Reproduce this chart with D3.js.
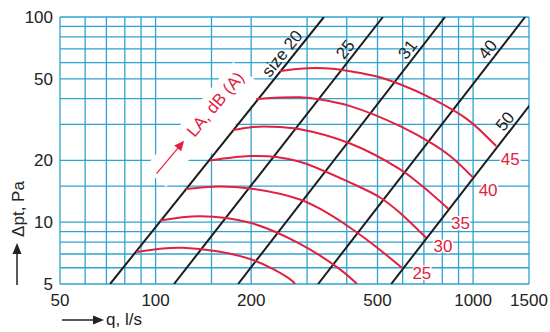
<!DOCTYPE html>
<html><head><meta charset="utf-8">
<script src="https://cdn.jsdelivr.net/npm/d3@7"></script>
<style>html,body{margin:0;padding:0;background:#fff;} svg{display:block;}</style>
</head><body>
<svg id="c" width="550" height="332"></svg>
<script>
// ---------- data ----------
const qTicks = [50, 100, 200, 500, 1000, 1500];
const pTicks = [5, 10, 20, 50, 100];
const qGrid = [50, 60, 70, 80, 90, 100, 150, 200, 300, 400, 500, 600, 700, 800, 900, 1000, 1500];
const pGrid = [5, 6, 7, 8, 9, 10, 15, 20, 30, 40, 50, 60, 70, 80, 90, 100];

const sizeNames = ["size 20", "25", "31", "40", "50"];
const sizeQat5 = [71.9, 114.3, 181.9, 325, 552];     // q (l/s) where line meets Δpt = 5 Pa
const sizeQat100 = [339, 520, 816, 1458, 2477];      // q (l/s) where line meets Δpt = 100 Pa

const laNames = ["45", "40", "35", "30", "25", "", ""];
const la45 = [[246.7, 54.6], [285, 56.0], [320, 56.4], [360, 56.0], [410, 54.4], [491, 51.6], [589, 47.0], [748, 39.8], [957, 31.8], [1182, 23.5]];
const la40 = [[207.3, 39.7], [246.7, 40.5], [285, 40.6], [330, 39.6], [410, 36.8], [589, 29.4], [748, 24.0], [846.7, 21.0], [1000, 16.5]];
const la35 = [[175.4, 28.1], [202.8, 29.1], [230, 29.2], [285, 28.4], [410, 24.2], [589, 18.1], [681, 15.3], [836.5, 11.6]];
const la30 = [[148.5, 20.0], [198.5, 21.0], [240, 20.8], [285, 19.7], [410, 15.6], [509.5, 13.2], [589, 11.1], [711, 8.40]];
const la25 = [[124.7, 14.5], [151.7, 14.9], [198.5, 14.6], [285, 12.9], [330, 11.6], [410, 9.40], [491, 7.66], [596.5, 6.00]];
const la20 = [[103.3, 10.2], [138.1, 10.7], [198.5, 9.94], [285, 7.85], [381, 5.89], [431, 5.0]];
const la15 = [[86.8, 7.16], [122, 7.51], [198.5, 6.62], [265, 5.28], [275, 5.0]];
const laCurves = [la45, la40, la35, la30, la25, la20, la15];

// ---------- layout ----------
const mL = 60, mR = 529, mT = 17, mB = 284;
const sizeLabelAt = [62, 65, 65, 65, 29];
const laLabelDx = [14, 15, 12, 17, 20];
const laLabelDy = [13, 12, 14, 8, 5];
const font = "'Liberation Sans', Arial, Helvetica, sans-serif";
const gridCol = "#2ea4cf", red = "#e2203f", ink = "#1c1c1c", txt = "#222";

const svg = d3.select("#c");
const x = d3.scaleLog().domain([50, 1500]).range([mL, mR]);
const y = d3.scaleLog().domain([5, 100]).range([mB, mT]);

svg.append("defs").append("clipPath").attr("id", "plot")
  .append("rect").attr("x", mL).attr("y", mT).attr("width", mR - mL).attr("height", mB - mT);

// grid
const g = svg.append("g");
g.selectAll("line.v").data(qGrid).join("line")
  .attr("x1", d => x(d)).attr("x2", d => x(d)).attr("y1", mT).attr("y2", mB)
  .attr("stroke", gridCol).attr("stroke-width", 1.3);
g.selectAll("line.h").data(pGrid).join("line")
  .attr("y1", d => y(d)).attr("y2", d => y(d)).attr("x1", mL).attr("x2", mR)
  .attr("stroke", gridCol).attr("stroke-width", 1.3);

// LA label white mask (rotated)
const laCx = 215, laCy = 104, laAng = -50;
const mask = svg.append("g").attr("transform", `translate(${laCx},${laCy}) rotate(${laAng})`);
mask.append("rect").attr("x", -95).attr("y", -13).attr("width", 139).attr("height", 29).attr("fill", "#fff");
mask.append("rect").attr("x", -45).attr("y", -13).attr("width", 89).attr("height", 42).attr("fill", "#fff");

// size lines
const plot = svg.append("g").attr("clip-path", "url(#plot)");
sizeNames.forEach((n, i) => {
  plot.append("line")
    .attr("x1", x(sizeQat5[i])).attr("y1", y(5))
    .attr("x2", x(sizeQat100[i])).attr("y2", y(100))
    .attr("stroke", ink).attr("stroke-width", 2);
});

// LA curves
const line = d3.line().x(d => x(d[0])).y(d => y(d[1])).curve(d3.curveCatmullRom.alpha(0.5));
laCurves.forEach(c => {
  plot.append("path").attr("d", line(c)).attr("fill", "none")
    .attr("stroke", red).attr("stroke-width", 2);
});

// size labels
sizeNames.forEach((n, i) => {
  const l5 = Math.log(sizeQat5[i]), l100 = Math.log(sizeQat100[i]);
  const t = (Math.log(sizeLabelAt[i]) - Math.log(5)) / (Math.log(100) - Math.log(5));
  const q = Math.exp(l5 + t * (l100 - l5));
  const px = x(q), py = y(sizeLabelAt[i]);
  const ang = Math.atan2(y(100) - y(5), x(sizeQat100[i]) - x(sizeQat5[i])) * 180 / Math.PI;
  svg.append("text").attr("transform", `translate(${px},${py}) rotate(${ang})`)
    .attr("y", -4).attr("text-anchor", "middle")
    .attr("font-family", font).attr("font-size", 17).attr("fill", txt).text(n);
});

// LA level labels
laCurves.forEach((c, i) => {
  if (!laNames[i]) return;
  const e = c[c.length - 1];
  svg.append("text").attr("x", x(e[0]) + laLabelDx[i]).attr("y", y(e[1]) + laLabelDy[i] + 6)
    .attr("text-anchor", "middle").attr("font-family", font).attr("font-size", 17)
    .attr("fill", red).attr("stroke", "#fff").attr("stroke-width", 3)
    .attr("paint-order", "stroke").text(laNames[i]);
});

// LA title + arrow
const lab = svg.append("g").attr("transform", `translate(${laCx},${laCy}) rotate(${laAng})`);
lab.append("text").attr("x", 0).attr("y", 6).attr("text-anchor", "middle")
  .attr("font-family", font).attr("font-size", 17).attr("fill", red).text("LA, dB (A)");
lab.append("line").attr("x1", -91).attr("y1", 0).attr("x2", -56).attr("y2", 0)
  .attr("stroke", red).attr("stroke-width", 1.2);
lab.append("path").attr("d", "M-48,0 L-58,-4.5 L-58,4.5 Z").attr("fill", red);

// tick labels
svg.selectAll("text.xt").data(qTicks).join("text")
  .attr("x", d => x(d)).attr("y", 306).attr("text-anchor", "middle")
  .attr("font-family", font).attr("font-size", 17).attr("fill", txt).text(d => d);
svg.selectAll("text.yt").data(pTicks).join("text")
  .attr("x", 53).attr("y", d => y(d) + 6).attr("text-anchor", "end")
  .attr("font-family", font).attr("font-size", 17).attr("fill", txt).text(d => d);

// axis titles with arrows
svg.append("line").attr("x1", 62).attr("y1", 320).attr("x2", 94).attr("y2", 320)
  .attr("stroke", txt).attr("stroke-width", 1.5);
svg.append("path").attr("d", "M104,320 L93,315.5 L93,324.5 Z").attr("fill", txt);
svg.append("text").attr("x", 106).attr("y", 325).attr("font-family", font)
  .attr("font-size", 17).attr("fill", txt).text("q, l/s");

svg.append("line").attr("x1", 17).attr("y1", 285).attr("x2", 17).attr("y2", 253)
  .attr("stroke", txt).attr("stroke-width", 1.5);
svg.append("path").attr("d", "M17,243 L12.5,254 L21.5,254 Z").attr("fill", txt);
svg.append("text").attr("transform", "translate(24,209) rotate(-90)")
  .attr("text-anchor", "middle").attr("font-family", font).attr("font-size", 17)
  .attr("fill", txt).text("Δpt, Pa");
</script>
</body></html>
